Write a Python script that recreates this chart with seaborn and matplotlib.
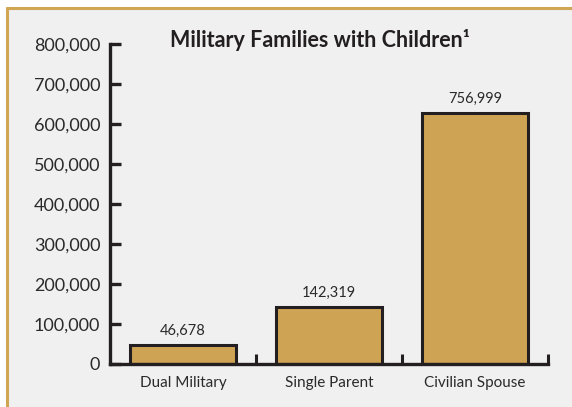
import matplotlib
matplotlib.use("Agg")
import matplotlib.pyplot as plt
import seaborn as sns
import pandas as pd
from matplotlib.lines import Line2D
from matplotlib.patches import Rectangle
from matplotlib.ticker import FuncFormatter, FixedLocator

categories = ["Dual Military", "Single Parent", "Civilian Spouse"]
bar_heights = [46678, 142319, 627000]
value_labels = ["46,678", "142,319", "756,999"]
y_ticks = [0, 100000, 200000, 300000, 400000, 500000, 600000, 700000, 800000]
title = "Military Families with Children¹"

sns.set_theme(style="white")
plt.rcParams["font.family"] = ["Lato", "DejaVu Sans"]

W, H = 572, 407
fig = plt.figure(figsize=(W / 100, H / 100), dpi=100)
fig.patch.set_facecolor("white")

# panel background + gold border (left & top)
bx, by = 7 / W, 8 / H
bg = Rectangle((bx, 0), 1 - bx, 1 - by, transform=fig.transFigure,
               facecolor="#f0f0f0", edgecolor="none")
bg.set_zorder(-10)
fig.add_artist(bg)
gold = "#d0a654"
for xs, ys in [([bx, bx], [0, 1 - by]), ([bx, 1], [1 - by, 1 - by])]:
    ln = Line2D(xs, ys, transform=fig.transFigure, color=gold, lw=2.2)
    ln.set_zorder(-5)
    fig.add_artist(ln)

left, right = 110 / W, 548 / W
bottom, top = 1 - 364 / H, 1 - 44 / H
ax = fig.add_axes([left, bottom, right - left, top - bottom])
ax.set_facecolor("none")
ax.set_zorder(1)

df = pd.DataFrame({"cat": categories, "val": bar_heights})
dark = "#231f20"
sns.barplot(data=df, x="cat", y="val", ax=ax, color="#cea354", saturation=1,
            edgecolor=dark, linewidth=2.2, width=0.72)

ax.set_xlim(-0.5, 2.5)
ax.set_ylim(0, 800000)
ax.set_xlabel("")
ax.set_ylabel("")

for s in ["top", "right"]:
    ax.spines[s].set_visible(False)
for s in ["left", "bottom"]:
    ax.spines[s].set_color(dark)
    ax.spines[s].set_linewidth(2.4)

ax.yaxis.set_major_locator(FixedLocator(y_ticks))
ax.yaxis.set_major_formatter(FuncFormatter(lambda v, p: f"{int(v):,}"))
ax.tick_params(axis="y", direction="in", length=8, width=2.4, color=dark,
               labelsize=13, labelcolor="#2a2a2a", pad=7, left=True)

ax.set_xticks(range(len(categories)))
ax.set_xticklabels(categories)
ax.tick_params(axis="x", which="major", length=0, labelsize=11,
               labelcolor="#2a2a2a", pad=9)
ax.set_xticks([0.5, 1.5, 2.5], minor=True)
ax.tick_params(axis="x", which="minor", direction="in", length=7, width=2.2,
               color=dark, bottom=True)

for i, (h, lab) in enumerate(zip(bar_heights, value_labels)):
    ax.annotate(lab, (i, h), xytext=(0, 5), textcoords="offset points",
                ha="center", va="bottom", fontsize=10.5, color="#2a2a2a")

fig.text(320 / W, 1 - 40 / H, title, ha="center", va="center",
         fontsize=15.5, fontweight="bold", color="#231f20")

fig.savefig("out.png", dpi=100)
